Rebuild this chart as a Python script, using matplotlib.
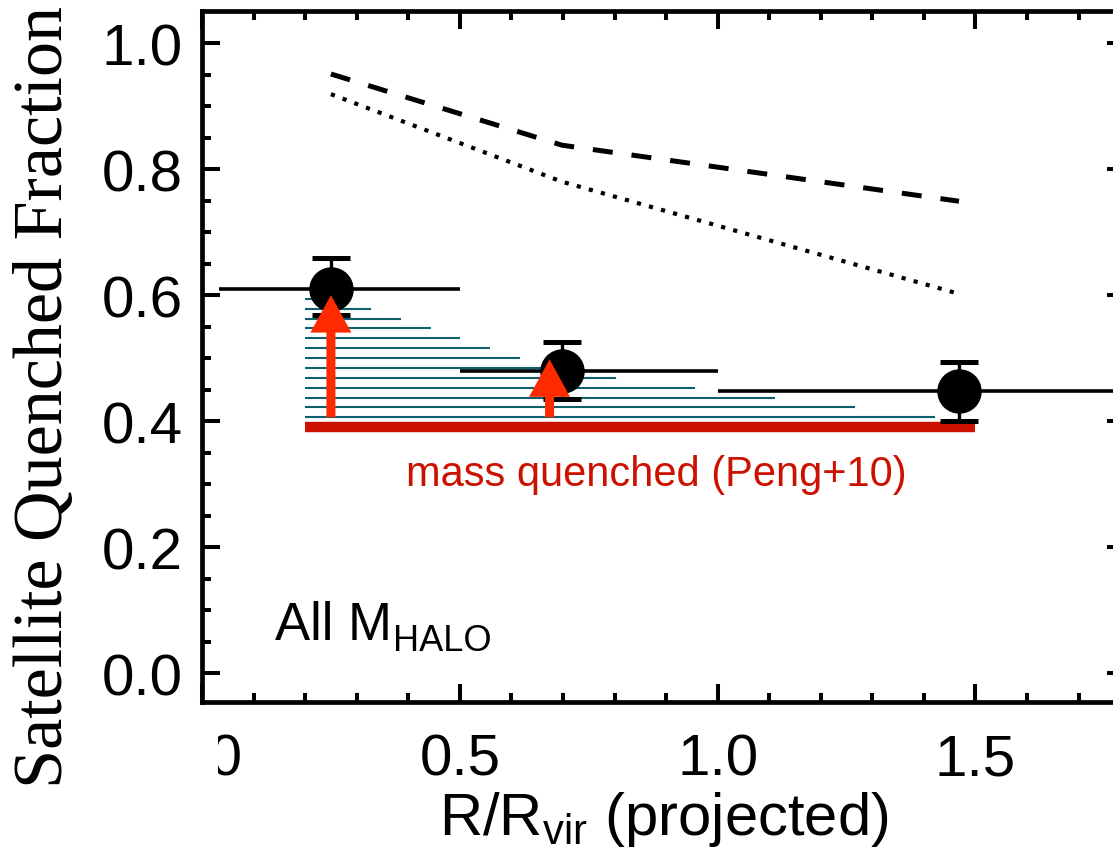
import numpy as np
import matplotlib.pyplot as plt
from matplotlib.patches import Rectangle

plt.rcParams['font.family'] = ['Liberation Sans', 'DejaVu Sans']
plt.rcParams['mathtext.fontset'] = 'custom'
plt.rcParams['mathtext.rm'] = 'Liberation Sans'
plt.rcParams['mathtext.it'] = 'Liberation Sans:italic'

# measured satellite quenched fraction in three radial bins
r_mid = [0.25, 0.698, 1.468]
frac = [0.610, 0.479, 0.447]
frac_hi = [0.659, 0.525, 0.494]
frac_lo = [0.568, 0.435, 0.400]
bin_lo = [0.033, 0.50, 1.00]
bin_hi = [0.50, 1.00, 2.00]

# model curves
model_x = [0.25, 0.698, 1.468]
model_dash = [0.951, 0.838, 0.749]
model_dot = [0.919, 0.780, 0.602]

# mass quenching level (Peng+10)
mass_q = 0.39
mass_x = [0.2, 1.5]

# upper edge of the hatched region
shade_x = [0.23, 0.69, 1.48]
shade_y = [0.605, 0.48, 0.40]
shade_levels = np.linspace(0.406, 0.594, 13)

# environment quenching arrows
arrow_x = [0.25, 0.674]
arrow_y0 = [0.406, 0.406]
arrow_y1 = [0.600, 0.498]

red = '#cc1100'
orange = '#ff2a00'
teal = '#0f5f6c'

fig = plt.figure(figsize=(11.13, 8.62), dpi=100)
ax = fig.add_axes([202 / 1113, 159 / 862, 923 / 1113, 691 / 862])

# hatching
ends = np.interp(shade_levels, shade_y[::-1], shade_x[::-1])
ax.hlines(shade_levels, mass_x[0], ends, color=teal, lw=1.5, zorder=1)

ax.plot(mass_x, [mass_q, mass_q], color=red, lw=7.5, solid_capstyle='butt', zorder=2)

ax.plot(model_x, model_dash, color='k', lw=3.6, ls=(0, (4, 3.8)), zorder=2)
ax.plot(model_x, model_dot, color='k', lw=3.0, ls=(0, (1, 2.0)), zorder=2)

ax.hlines(frac, bin_lo, bin_hi, color='k', lw=2.6, zorder=3)
yerr = [np.array(frac) - np.array(frac_lo), np.array(frac_hi) - np.array(frac)]
ax.errorbar(r_mid, frac, yerr=yerr, fmt='o', ms=31, color='k',
            elinewidth=2.4, capsize=13.7, capthick=3.6, zorder=4)

for x, y0, y1 in zip(arrow_x, arrow_y0, arrow_y1):
    ax.annotate('', xy=(x, y1), xytext=(x, y0),
                arrowprops=dict(arrowstyle='simple,head_length=27,head_width=29.5,tail_width=6.5',
                                mutation_scale=1, color=orange, lw=0,
                                shrinkA=0, shrinkB=0),
                zorder=5)

ax.text(0.882, 0.298, 'mass quenched (Peng+10)', color=red, fontsize=30,
        ha='center', va='baseline')

t = ax.text(0.141, 0.054, 'All M', fontsize=38, va='baseline')
ax.annotate('HALO', xy=(1, 0), xycoords=t, xytext=(1, 0),
            textcoords='offset points', fontsize=26, va='baseline')

ax.set_xlim(0, 1.79)
ax.set_ylim(-0.046, 1.051)
ax.set_xticks([0, 0.5, 1.0, 1.5])
ax.set_xticklabels(['0.0', '0.5', '1.0', '1.5'])
ax.set_xticks(np.arange(0, 1.8, 0.1), minor=True)
ax.set_yticks([0.0, 0.2, 0.4, 0.6, 0.8, 1.0])
ax.set_yticklabels(['0.0', '0.2', '0.4', '0.6', '0.8', '1.0'])
ax.set_yticks(np.arange(0, 1.05, 0.05), minor=True)

ax.tick_params(which='both', direction='in', top=True, right=True, width=2.9)
ax.tick_params(which='major', length=13, labelsize=42)
ax.tick_params(axis='x', which='major', pad=22)
ax.tick_params(axis='y', which='major', pad=14)
ax.tick_params(which='minor', length=6.5)
for s in ax.spines.values():
    s.set_linewidth(3.4)

ax.set_xlabel('R/R$_{\\mathrm{vir}}$ (projected)', fontsize=43, labelpad=2)
fig.text(45 / 1113, 1 - 397 / 862, 'Satellite Quenched Fraction',
         family='Liberation Serif', fontsize=50.5, rotation=90,
         ha='center', va='center')

# the left part of the first x label is hidden in the original
fig.patches.append(Rectangle((140 / 1113, 62 / 862), 78 / 1113, 80 / 862,
                             transform=fig.transFigure, facecolor='white',
                             edgecolor='none', zorder=10))

fig.savefig('out.png', dpi=100)
